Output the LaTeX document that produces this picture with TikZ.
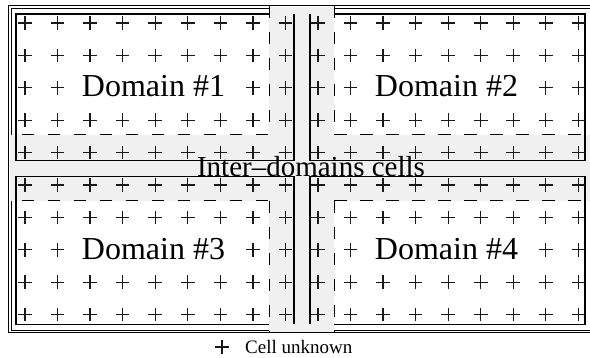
\documentclass[tikz,border=0pt]{standalone}
\usepackage{fontspec}
\setmainfont{Liberation Serif}
\begin{document}
\begin{tikzpicture}[x=1pt,y=-1pt,
  border/.style={line width=0.9pt},
  dombox/.style={line width=1.3pt},
  ghost/.style={line width=1pt, dash pattern=on 12.5pt off 13.5pt},
  bandfill/.style={fill=black!6, draw=none},
  domlbl/.style={font=\fontsize{32}{32}\selectfont, inner sep=0pt, anchor=base},
  interlbl/.style={font=\fontsize{29}{29}\selectfont, inner sep=0pt, anchor=base},
  leglbl/.style={font=\fontsize{19}{19}\selectfont, inner sep=0pt, anchor=base west},
  crossline/.style={line width=1.3pt, black!90}]
\useasboundingbox (0,0) rectangle (590,358);
\clip (0,-5) rectangle (590,365);
% outer double border
\draw[border] (8.3,5.7) rectangle (600,332.7);
\draw[border] (11,8.3) rectangle (597,330);
% gray inter-domain bands
\fill[bandfill] (9.5,135) rectangle (600,201);
\fill[bandfill] (269,6.8) rectangle (334,331.6);
% domain boxes
\draw[dombox] (269,14) -- (16,14) -- (16,160.7) -- (294,160.7) -- (294,14);
\draw[dombox] (334,14) -- (585,14) -- (585,160.7) -- (310,160.7) -- (310,14);
\draw[dombox] (269,324.3) -- (16,324.3) -- (16,176.7) -- (294,176.7) -- (294,324.3);
\draw[dombox] (334,324.3) -- (585,324.3) -- (585,176.7) -- (310,176.7) -- (310,324.3);
% ghost cell limits
\draw[ghost] (269,5.7) -- (269,135);
\draw[ghost] (334,5.7) -- (334,135);
\draw[ghost] (269,201) -- (269,332.7);
\draw[ghost] (334,201) -- (334,332.7);
\draw[ghost, dash phase=20.3pt] (16,135) -- (269,135);
\draw[ghost, dash phase=20.3pt] (16,201) -- (269,201);
\draw[ghost] (334,135) -- (590,135);
\draw[ghost] (334,201) -- (590,201);
% cell unknowns
\foreach \r in {0,...,9} {
  \foreach \c in {0,...,17} {
    \pgfmathsetmacro{\skipme}{((\r==2 || \r==7) && ((\c>=2 && \c<=6) || (\c>=11 && \c<=15))) ? 1 : 0}
    \ifnum\skipme=0
      \pgfmathsetmacro{\cx}{25+32.55*\c}
      \pgfmathsetmacro{\cy}{23+32.4*\r}
      \draw[crossline] (\cx-6.8,\cy) -- (\cx+6.8,\cy) (\cx,\cy-6.8) -- (\cx,\cy+6.8);
    \fi
  }
}
% labels
\node[domlbl] (d1) at (153.5,97) {Domain \#1};
\node[domlbl] (d2) at (446.5,97) {Domain \#2};
\node[domlbl] (d3) at (153.5,259.5) {Domain \#3};
\node[domlbl] (d4) at (446.5,259.5) {Domain \#4};
\node[interlbl] (inter) at (311,176.5) {Inter–domains cells};
% legend
\coordinate (lc) at (222,347);
\draw[crossline] ([xshift=-6.8pt]lc) -- ([xshift=6.8pt]lc) ([yshift=-6.8pt]lc) -- ([yshift=6.8pt]lc);
\node[leglbl] (leg) at (245,354) {Cell unknown};
\end{tikzpicture}
\end{document}
